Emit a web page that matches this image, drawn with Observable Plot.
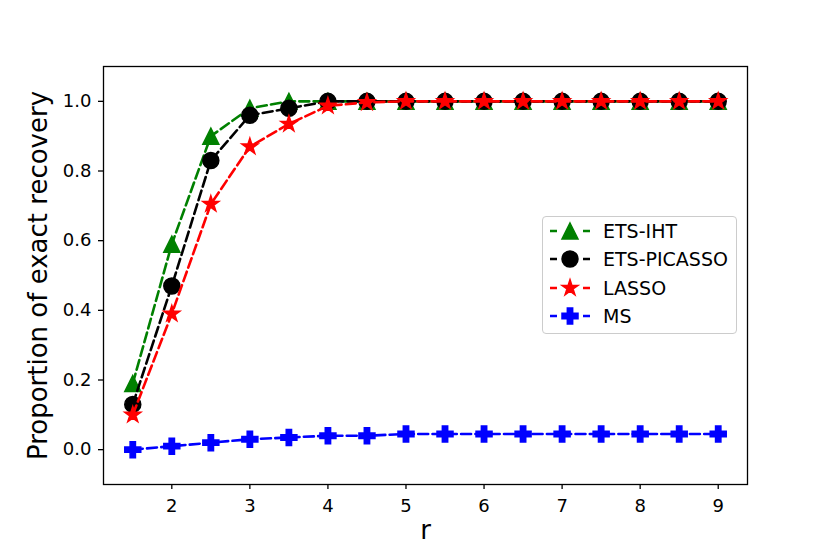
<!DOCTYPE html>
<html>
<head>
<meta charset="utf-8">
<script src="https://cdn.jsdelivr.net/npm/d3@7"></script>
<script src="https://cdn.jsdelivr.net/npm/@observablehq/plot@0.6"></script>
<style>
  html, body { margin: 0; padding: 0; background: white; }
  #wrap { position: relative; width: 830px; height: 554px; font-family: "DejaVu Sans", sans-serif; }
  #legend { position: absolute; left: 542px; top: 216px; width: 195px; height: 118px;
    border: 1px solid #cccccc; border-radius: 4px; background: rgba(255,255,255,0.8); box-sizing: border-box; }
  .row { position: absolute; left: 0; height: 24px; display: flex; align-items: center; }
  .row span { font-size: 19px; color: black; margin-left: 12px; white-space: nowrap; }
</style>
</head>
<body>
<div id="wrap"><div id="chart"></div><div id="legend"></div></div>
<script>
// ---- data ----
const rValues = [1.5, 2, 2.5, 3, 3.5, 4, 4.5, 5, 5.5, 6, 6.5, 7, 7.5, 8, 8.5, 9];
const etsIHT     = [0.19, 0.59, 0.90, 0.98, 1.0, 1.0, 1.0, 1.0, 1.0, 1.0, 1.0, 1.0, 1.0, 1.0, 1.0, 1.0];
const etsPICASSO = [0.13, 0.47, 0.83, 0.96, 0.98, 1.0, 1.0, 1.0, 1.0, 1.0, 1.0, 1.0, 1.0, 1.0, 1.0, 1.0];
const lasso      = [0.10, 0.39, 0.705, 0.87, 0.935, 0.987, 0.997, 1.0, 1.0, 1.0, 1.0, 1.0, 1.0, 1.0, 1.0, 1.0];
const ms         = [0.0, 0.01, 0.02, 0.03, 0.035, 0.04, 0.04, 0.045, 0.045, 0.045, 0.045, 0.045, 0.045, 0.045, 0.045, 0.045];
const seriesNames = ["ETS-IHT", "ETS-PICASSO", "LASSO", "MS"];
const seriesColors = ["green", "black", "red", "blue"];
const xTicks = [2, 3, 4, 5, 6, 7, 8, 9];
const yTicks = [0.0, 0.2, 0.4, 0.6, 0.8, 1.0];
const xLabel = "r";
const yLabel = "Proportion of exact recovery";

// ---- matplotlib-like marker symbols ----
const rad = size => Math.sqrt(size / Math.PI);
const symTriangle = { draw(ctx, size) { const r = rad(size); ctx.moveTo(0, -r); ctx.lineTo(r, r); ctx.lineTo(-r, r); ctx.closePath(); } };
const symCircle = { draw(ctx, size) { const r = rad(size); ctx.moveTo(r, 0); ctx.arc(0, 0, r, 0, 2 * Math.PI); } };
const symStar = { draw(ctx, size) { const r = rad(size) * 1.05, ri = r * 0.381966;
  for (let i = 0; i < 10; i++) { const a = -Math.PI / 2 + i * Math.PI / 5, q = i % 2 ? ri : r;
    const x = q * Math.cos(a), y = q * Math.sin(a); if (i === 0) ctx.moveTo(x, y); else ctx.lineTo(x, y); }
  ctx.closePath(); } };
const symPlus = { draw(ctx, size) { const s = rad(size) / 3;
  const p = [[-1,-3],[1,-3],[1,-1],[3,-1],[3,1],[1,1],[1,3],[-1,3],[-1,1],[-3,1],[-3,-1],[-1,-1]];
  p.forEach(([x, y], i) => i ? ctx.lineTo(x * s, y * s) : ctx.moveTo(x * s, y * s)); ctx.closePath(); } };
const symbols = [symTriangle, symCircle, symStar, symPlus];
const values = [etsIHT, etsPICASSO, lasso, ms];

const rows = [];
seriesNames.forEach((name, k) => rValues.forEach((r, i) => rows.push({ series: name, r, v: values[k][i] })));

const markR = 8, lineW = 2.6, dash = "10,4.3", edgeW = 1.5;

const seriesMarks = [];
seriesNames.forEach((name, k) => {
  const d = rows.filter(o => o.series === name);
  seriesMarks.push(Plot.line(d, { x: "r", y: "v", stroke: seriesColors[k], strokeWidth: lineW, strokeDasharray: dash }));
  seriesMarks.push(Plot.dot(d, { x: "r", y: "v", symbol: () => symbols[k], r: markR, fill: seriesColors[k], stroke: seriesColors[k], strokeWidth: edgeW }));
});

const chart = Plot.plot({
  width: 830, height: 554,
  marginLeft: 103, marginRight: 83, marginTop: 66, marginBottom: 70,
  x: { domain: [1.125, 9.375] },
  y: { domain: [-0.1, 1.1] },
  symbol: { type: "identity" },
  style: { fontFamily: "DejaVu Sans", fontSize: "18px", background: "white", color: "black" },
  marks: [
    Plot.axisX({ ticks: xTicks, tickSize: 5, tickPadding: 10, tickFormat: d3.format("d"), label: null, fontSize: 18, strokeWidth: 1.3 }),
    Plot.axisY({ ticks: yTicks, tickSize: 5, tickPadding: 7, tickFormat: d3.format(".1f"), label: null, fontSize: 18, strokeWidth: 1.3 }),
    ...seriesMarks,
    Plot.frame({ stroke: "black", strokeWidth: 1.3 }),
    Plot.text([xLabel], { frameAnchor: "bottom", dy: 54, fontSize: 26, fill: "black", textAnchor: "middle" }),
    Plot.text([yLabel], { frameAnchor: "left", dx: -65, rotate: -90, fontSize: 26, fill: "black", textAnchor: "middle" })
  ]
});
document.getElementById("chart").appendChild(chart);

// ---- legend ----
const legend = d3.select("#legend");
const rowTops = [2, 30, 59, 87];
seriesNames.forEach((name, k) => {
  const row = legend.append("div").attr("class", "row").style("top", rowTops[k] + "px").style("left", "6px");
  const svg = row.append("svg").attr("width", 42).attr("height", 24);
  svg.append("line").attr("x1", 1).attr("x2", 41).attr("y1", 12).attr("y2", 12)
    .attr("stroke", seriesColors[k]).attr("stroke-width", lineW).attr("stroke-dasharray", "7,26,7");
  svg.append("path").attr("transform", "translate(21,12)")
    .attr("d", d3.symbol(symbols[k], Math.PI * markR * markR)())
    .attr("fill", seriesColors[k]).attr("stroke", seriesColors[k]).attr("stroke-width", edgeW);
  row.append("span").text(name);
});
</script>
</body>
</html>
